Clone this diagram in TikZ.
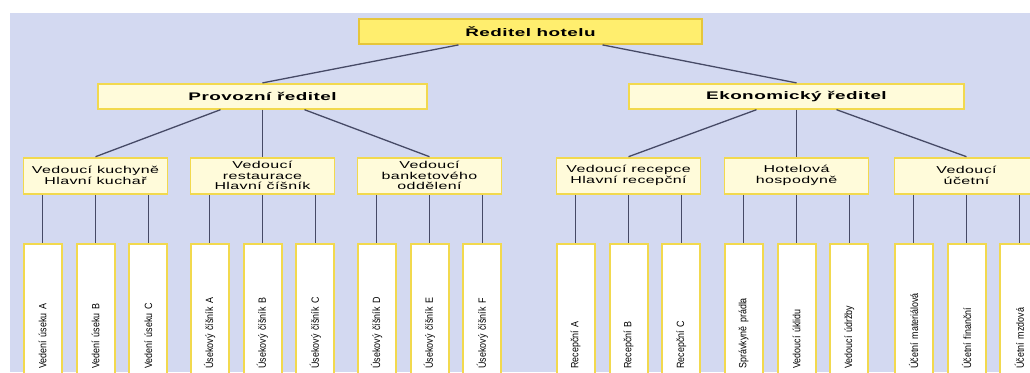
\documentclass[tikz,border=0pt]{standalone}
\usepackage{fontspec}
\usetikzlibrary{positioning}
\newfontfamily\boxfont[FakeStretch=1.6,LetterSpace=4]{Liberation Sans}
\newfontfamily\headfont[FakeStretch=1.72,LetterSpace=4]{Liberation Sans}
\newfontfamily\leaffont[FakeStretch=0.85]{Liberation Sans}
\definecolor{paper}{HTML}{D3D9F1}
\definecolor{gold}{HTML}{FFEE6E}
\definecolor{goldline}{HTML}{E6C63A}
\definecolor{cream}{HTML}{FFFBDA}
\definecolor{creamline}{HTML}{F2D94E}
\definecolor{wire}{HTML}{464A66}

\begin{document}
\begin{tikzpicture}[
    x=1pt, y=-1pt,
    head/.style={draw=creamline, line width=1.8pt, fill=cream, minimum height=25pt,
      font=\headfont\bfseries\fontsize{11}{12}\selectfont},
    boss/.style={head, draw=goldline, fill=gold},
    unit/.style={draw=creamline, line width=1.8pt, fill=cream, align=center,
      minimum width=144pt, minimum height=36pt, inner sep=1pt,
      font=\boxfont\fontsize{10}{10.5}\selectfont},
    leaf/.style={draw=creamline, line width=2pt, fill=white, rotate=90,
      text width=115pt, align=left, minimum height=38pt, inner xsep=10pt, inner ysep=0pt,
      font=\leaffont\fontsize{10.5}{11}\selectfont},
    link/.style={draw=wire, line width=1.3pt}
  ]
    \useasboundingbox (0,0) rectangle (1030,372);
    \clip (0,0) rectangle (1030,372);
    \fill[paper] (10,13) rectangle (1030,372);

    % top and the two directors
    \node[boss, minimum width=343pt] (top) at (530.5,31.5) {Ředitel hotelu};
    \node[head, below=38pt of top, xshift=-268pt, minimum width=329pt] (prov) {Provozní ředitel};
    \node[head, below=38pt of top, xshift=266pt, minimum width=335pt] (ekon) {Ekonomický ředitel};

    % departments
    \node[unit, below=47pt of prov, xshift=-167pt] (g1) {Vedoucí kuchyně\\Hlavní kuchař};
    \node[unit, below=47pt of prov] (g2) {Vedoucí\\restaurace\\Hlavní číšník};
    \node[unit, below=47pt of prov, xshift=167pt] (g3) {Vedoucí\\banketového\\oddělení};
    \node[unit, below=47pt of ekon, xshift=-168pt] (g4) {Vedoucí recepce\\Hlavní recepční};
    \node[unit, below=47pt of ekon] (g5) {Hotelová\\hospodyně};
    \node[unit, below=47pt of ekon, xshift=170pt] (g6) {Vedoucí\\účetní};

    % staff
    \node[leaf, below right=48pt and 0pt of g1.south west, anchor=north east] (g1a) {Vedení úseku A};
    \node[leaf, below=48pt of g1, anchor=east] (g1b) {Vedení úseku B};
    \node[leaf, below left=48pt and 0pt of g1.south east, anchor=south east] (g1c) {Vedení úseku C};

    \node[leaf, below right=48pt and 0pt of g2.south west, anchor=north east] (g2a) {Úsekový číšník A};
    \node[leaf, below=48pt of g2, anchor=east] (g2b) {Úsekový číšník B};
    \node[leaf, below left=48pt and 0pt of g2.south east, anchor=south east] (g2c) {Úsekový číšník C};

    \node[leaf, below right=48pt and 0pt of g3.south west, anchor=north east] (g3a) {Úsekový číšník D};
    \node[leaf, below=48pt of g3, anchor=east] (g3b) {Úsekový číšník E};
    \node[leaf, below left=48pt and 0pt of g3.south east, anchor=south east] (g3c) {Úsekový číšník F};

    \node[leaf, below right=48pt and 0pt of g4.south west, anchor=north east] (g4a) {Recepční A};
    \node[leaf, below=48pt of g4, anchor=east] (g4b) {Recepční B};
    \node[leaf, below left=48pt and 0pt of g4.south east, anchor=south east] (g4c) {Recepční C};

    \node[leaf, below right=48pt and 0pt of g5.south west, anchor=north east] (g5a) {Správkyně prádla};
    \node[leaf, below=48pt of g5, anchor=east] (g5b) {Vedoucí úklidu};
    \node[leaf, below left=48pt and 0pt of g5.south east, anchor=south east] (g5c) {Vedoucí údržby};

    \node[leaf, below right=48pt and 0pt of g6.south west, anchor=north east] (g6a) {Účetní materiálová};
    \node[leaf, below=48pt of g6, anchor=east] (g6b) {Účetní finanční};
    \node[leaf, below left=48pt and 0pt of g6.south east, anchor=south east] (g6c) {Účetní mzdová};

    % connectors
    \draw[link] ([xshift=-72pt]top.south) -- (prov.north);
    \draw[link] ([xshift=72pt]top.south) -- (ekon.north);
    \draw[link] ([xshift=-42pt]prov.south) -- (g1.north);
    \draw[link] (prov.south) -- (g2.north);
    \draw[link] ([xshift=42pt]prov.south) -- (g3.north);
    \draw[link] ([xshift=-40pt]ekon.south) -- (g4.north);
    \draw[link] (ekon.south) -- (g5.north);
    \draw[link] ([xshift=40pt]ekon.south) -- (g6.north);
    \foreach \g in {g1,g2,g3,g4,g5,g6}
      \foreach \s in {a,b,c}
        \draw[link] (\g\s.east) -- (\g\s.east |- \g.south);
  \end{tikzpicture}
\end{document}
